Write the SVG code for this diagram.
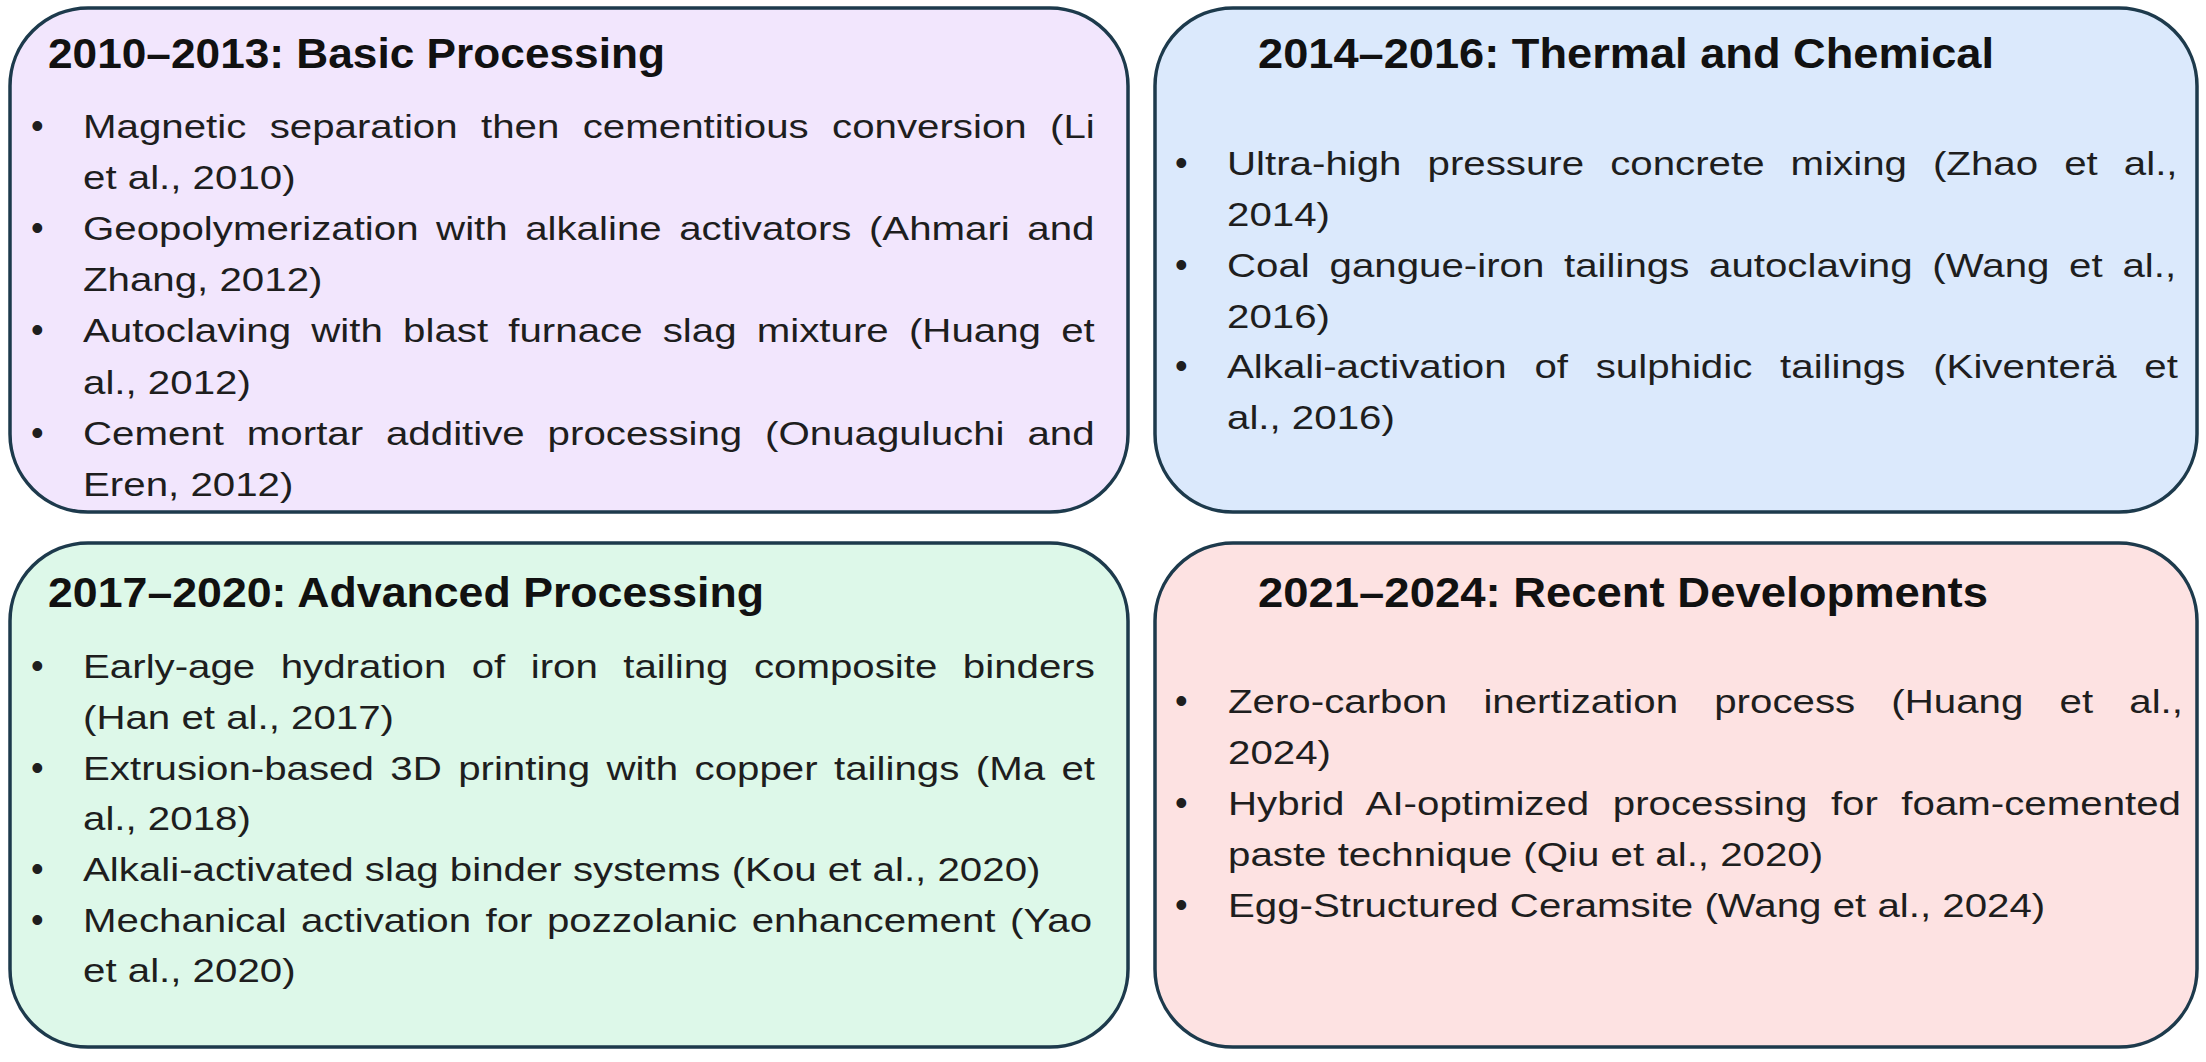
<svg xmlns="http://www.w3.org/2000/svg" width="2206" height="1062" viewBox="0 0 2206 1062">
<style>
.box{stroke:#1d3a4c;stroke-width:3.5}
.title{font-family:"Liberation Sans",Arial,sans-serif;font-weight:bold;font-size:42px;fill:#111}
.body{font-family:"Liberation Sans",Arial,sans-serif;font-size:33px;fill:#1e1e1e}
.bul{font-family:"Liberation Sans",Arial,sans-serif;font-size:36px;fill:#1e1e1e}
</style>
<rect width="2206" height="1062" fill="#ffffff"/>
<g id="connectors"></g>

<g id="box-2010-2013">
<rect class="box" x="10" y="8" width="1118" height="504" rx="78" ry="78" fill="#f2e6fd"/>
<text class="title" x="48" y="68" textLength="617" lengthAdjust="spacingAndGlyphs">2010–2013: Basic Processing</text>
<text class="bul" x="31" y="138">•</text>
<text class="bul" x="31" y="240">•</text>
<text class="bul" x="31" y="342">•</text>
<text class="bul" x="31" y="445">•</text>
<g transform="translate(83 0) scale(1.22 1)">
<text class="body" x="0" y="138" word-spacing="10">Magnetic separation then cementitious conversion (Li</text>
<text class="body" x="0" y="189">et al., 2010)</text>
<text class="body" x="0" y="240" word-spacing="5.2">Geopolymerization with alkaline activators (Ahmari and</text>
<text class="body" x="0" y="291">Zhang, 2012)</text>
<text class="body" x="0" y="342" word-spacing="7.4">Autoclaving with blast furnace slag mixture (Huang et</text>
<text class="body" x="0" y="394">al., 2012)</text>
<text class="body" x="0" y="445" word-spacing="9.6">Cement mortar additive processing (Onuaguluchi and</text>
<text class="body" x="0" y="496">Eren, 2012)</text>
</g>
</g>

<g id="box-2014-2016">
<rect class="box" x="1155" y="8" width="1042" height="504" rx="78" ry="78" fill="#dbe9fc"/>
<text class="title" x="1258" y="68" textLength="736" lengthAdjust="spacingAndGlyphs">2014–2016: Thermal and Chemical</text>
<text class="bul" x="1175" y="175">•</text>
<text class="bul" x="1175" y="277">•</text>
<text class="bul" x="1175" y="378">•</text>
<g transform="translate(1227 0) scale(1.22 1)">
<text class="body" x="0" y="175" word-spacing="12.2">Ultra-high pressure concrete mixing (Zhao et al.,</text>
<text class="body" x="0" y="226">2014)</text>
<text class="body" x="0" y="277" word-spacing="7">Coal gangue-iron tailings autoclaving (Wang et al.,</text>
<text class="body" x="0" y="328">2016)</text>
<text class="body" x="0" y="378" word-spacing="13.6">Alkali-activation of sulphidic tailings (Kiventerä et</text>
<text class="body" x="0" y="429">al., 2016)</text>
</g>
</g>

<g id="box-2017-2020">
<rect class="box" x="10" y="543" width="1118" height="504" rx="78" ry="78" fill="#ddf8e9"/>
<text class="title" x="48" y="607" textLength="716" lengthAdjust="spacingAndGlyphs">2017–2020: Advanced Processing</text>
<text class="bul" x="31" y="678">•</text>
<text class="bul" x="31" y="780">•</text>
<text class="bul" x="31" y="881">•</text>
<text class="bul" x="31" y="932">•</text>
<g transform="translate(83 0) scale(1.22 1)">
<text class="body" x="0" y="678" word-spacing="11.7">Early-age hydration of iron tailing composite binders</text>
<text class="body" x="0" y="729">(Han et al., 2017)</text>
<text class="body" x="0" y="780" word-spacing="4.3">Extrusion-based 3D printing with copper tailings (Ma et</text>
<text class="body" x="0" y="830">al., 2018)</text>
<text class="body" x="0" y="881">Alkali-activated slag binder systems (Kou et al., 2020)</text>
<text class="body" x="0" y="932" word-spacing="2.7">Mechanical activation for pozzolanic enhancement (Yao</text>
<text class="body" x="0" y="982">et al., 2020)</text>
</g>
</g>

<g id="box-2021-2024">
<rect class="box" x="1155" y="543" width="1042" height="504" rx="78" ry="78" fill="#fde2e2"/>
<text class="title" x="1258" y="607" textLength="730" lengthAdjust="spacingAndGlyphs">2021–2024: Recent Developments</text>
<text class="bul" x="1175" y="713">•</text>
<text class="bul" x="1175" y="815">•</text>
<text class="bul" x="1175" y="917">•</text>
<g transform="translate(1228 0) scale(1.22 1)">
<text class="body" x="0" y="713" word-spacing="20.5">Zero-carbon inertization process (Huang et al.,</text>
<text class="body" x="0" y="764">2024)</text>
<text class="body" x="0" y="815" word-spacing="10.1">Hybrid AI-optimized processing for foam-cemented</text>
<text class="body" x="0" y="866">paste technique (Qiu et al., 2020)</text>
<text class="body" x="0" y="917">Egg-Structured Ceramsite (Wang et al., 2024)</text>
</g>
</g>
</svg>
